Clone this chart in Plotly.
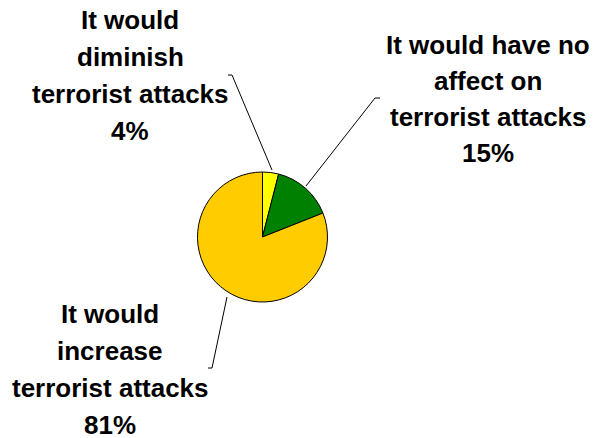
import plotly.graph_objects as go

# ---- data ----
categories = [
    "It would diminish terrorist attacks",
    "It would have no affect on terrorist attacks",
    "It would increase terrorist attacks",
]
values = [4, 15, 81]
label_lines = [
    ["It would", "diminish", "terrorist attacks"],
    ["It would have no", "affect on", "terrorist attacks"],
    ["It would", "increase", "terrorist attacks"],
]
colors = ["#FFFF00", "#008000", "#FFCC00"]

W, H = 598, 438
OFF = 8  # page body margin offset

def px(x):
    return (x - OFF) / W

def py(y):
    return 1 - (y - OFF) / H

# pie placement (pixels in the screenshot): centre and radius
cx, cy, r = 262.5, 237, 65

fig = go.Figure(go.Pie(
    labels=categories,
    values=values,
    sort=False,
    direction="clockwise",
    rotation=0,
    textinfo="none",
    hoverinfo="label+percent",
    marker=dict(colors=colors, line=dict(color="black", width=1)),
    domain=dict(x=[px(cx - r), px(cx + r)], y=[py(cy + r), py(cy - r)]),
    showlegend=False,
))

# label blocks: centre x and first-line y (pixels), line step
label_pos = [(130, 20, 37.0), (488, 44.5, 36.3), (110, 314, 37.0)]
font = dict(family="Liberation Sans, Arial, sans-serif", size=26, color="black", weight="bold")
annotations = []
for lines, v, (lx, ly, step) in zip(label_lines, values, label_pos):
    for i, t in enumerate(lines + [f"{v}%"]):
        annotations.append(dict(
            x=px(lx), y=py(ly + i * step), xref="paper", yref="paper",
            text=t, showarrow=False, xanchor="center", yanchor="middle",
            font=font,
        ))

# leader lines (pixels)
leaders = [
    [(228, 75), (232, 75), (272, 170)],
    [(380, 98), (375, 98), (306, 186)],
    [(227, 297), (212, 368), (208, 368)],
]
shapes = []
for pts in leaders:
    for (x0, y0), (x1, y1) in zip(pts[:-1], pts[1:]):
        shapes.append(dict(type="line", xref="paper", yref="paper",
                           x0=px(x0), y0=py(y0), x1=px(x1), y1=py(y1),
                           line=dict(color="black", width=1)))

fig.update_layout(
    width=W, height=H,
    margin=dict(l=0, r=0, t=0, b=0),
    paper_bgcolor="white", plot_bgcolor="white",
    annotations=annotations, shapes=shapes,
)
fig.write_html("out.html")
